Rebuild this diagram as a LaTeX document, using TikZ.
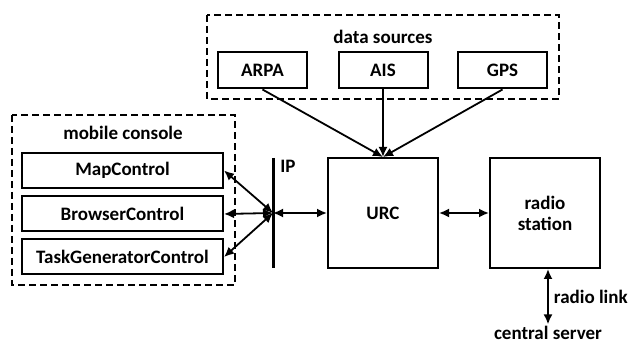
\documentclass[tikz,border=0pt]{standalone}
\usepackage{fontspec}
\setmainfont{Carlito}
\usetikzlibrary{arrows.meta}

\tikzset{
  unit/.style={draw,line width=2pt,inner sep=0pt,font=\bfseries\fontsize{19}{21}\selectfont},
  ctrl/.style={unit,minimum width=201pt,minimum height=35pt},
  source/.style={unit,minimum width=89pt,minimum height=36pt},
  station/.style={unit,minimum width=110pt,minimum height=110pt,align=center},
  group/.style={draw,line width=2pt,dash pattern=on 7pt off 4pt},
  caption/.style={inner sep=1pt,font=\bfseries\fontsize{19}{21}\selectfont},
}

\begin{document}
\begin{tikzpicture}[x=1pt,y=-1pt,>={Latex[length=10pt,width=9pt]},line width=1.8pt]
\useasboundingbox (0,0) rectangle (638,344);
% groups
\draw[group] (12,115) rectangle (235,285);
\draw[group] (207,15) rectangle (559,99);
\node[caption] (console) at (123,133) {mobile console};
\node[caption] (sources) at (383,37) {data sources};
% mobile console
\node[ctrl] (map) at (122.5,170.5) {MapControl};
\node[ctrl] (browser) at (122.5,214) {BrowserControl};
\node[ctrl] (task) at (122.5,257) {TaskGeneratorControl};
% data sources
\node[source] (arpa) at (262.5,70.5) {ARPA};
\node[source] (ais) at (383,70.5) {AIS};
\node[source] (gps) at (502.5,70.5) {GPS};
% stations
\node[station] (urc) at (383,213) {URC};
\node[station] (radio) at (545,213) {radio\\station};
\node[caption] (server) at (548,333) {central server};
% IP bus
\coordinate (ipTop) at (273,158);
\coordinate (ipBot) at (273,268);
\coordinate (ipMid) at (273,213);
\draw[line width=3pt] (ipTop) -- (ipBot);
\node[caption] (ip) at (288,166) {IP};
% connections
\draw[<->] (ipMid) -- (map.east);
\draw[<->] (ipMid) -- (browser.east);
\draw[<->] (ipMid) -- (task.east);
\draw[<->] (ipMid) -- (urc.west);
\draw[->] (arpa.south) -- (urc.north);
\draw[->] (ais.south) -- (urc.north);
\draw[->] (gps.south) -- (urc.north);
\draw[<->] (urc.east) -- (radio.west);
\draw[<->] (radio.south -| server.north) -- node[caption,right=4pt] (link) {radio link} (server.north);
\end{tikzpicture}
\end{document}
